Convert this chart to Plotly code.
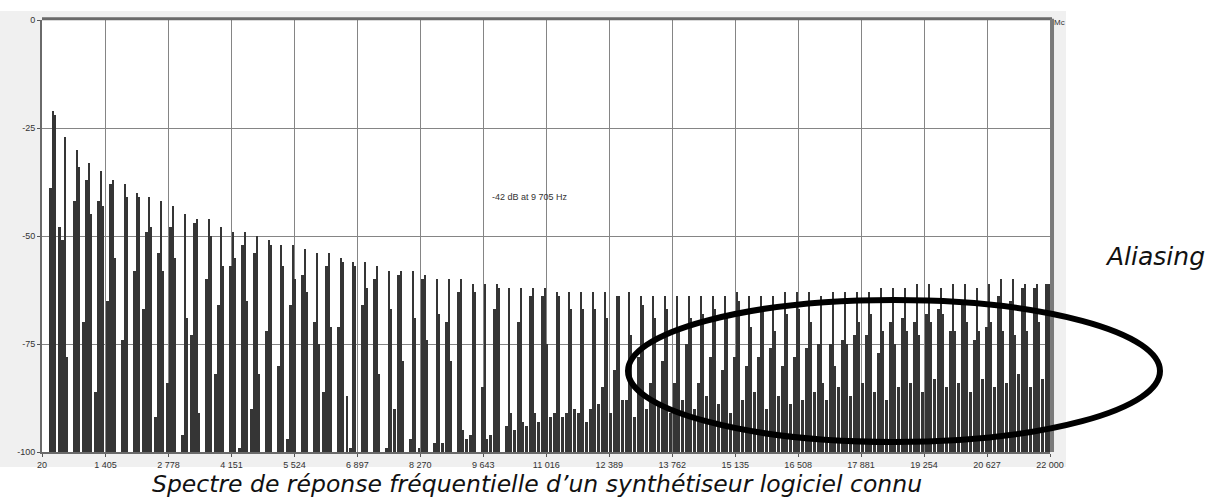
import plotly.graph_objects as go

# Harmonic frequencies (Hz) of the analysed tone
harm_freq = [262, 523, 785, 1046, 1308, 1570, 1831, 2093, 2354, 2616, 2878, 3139, 3401, 3662,
             3924, 4186, 4447, 4709, 4970, 5232, 5494, 5755, 6017, 6278, 6540, 6802, 7063, 7325,
             7586, 7848, 8110, 8371, 8633, 8894, 9156, 9418, 9679, 9941, 10202, 10464, 10726,
             10987, 11249, 11510, 11772, 12034, 12295, 12557, 12818, 13080, 13342, 13603, 13865,
             14126, 14388, 14650, 14911, 15173, 15434, 15696, 15958, 16219, 16481, 16742, 17004,
             17266, 17527, 17789, 18050, 18312, 18574, 18835, 19097, 19358, 19620, 19882, 20143,
             20405, 20666, 20928, 21190, 21451, 21713, 21974]

# Main harmonic peak level (dB)
main_db = [-21, -27, -30, -33, -35, -37, -38, -40, -41, -42, -43, -45, -46, -46, -48, -49, -49,
           -50, -51, -52, -52, -53, -54, -54, -55, -56, -56, -57, -58, -58, -58, -59, -60, -60,
           -60, -61, -61, -61, -62, -62, -62, -62, -63, -63, -63, -63, -63, -64, -63, -64, -64,
           -64, -64, -64, -64, -64, -64, -63, -64, -64, -64, -63, -63, -63, -64, -63, -63, -63,
           -63, -62, -62, -62, -61, -61, -62, -61, -61, -62, -61, -60, -60, -61, -61, -61]

# Component just below each harmonic (dB)
left_db = [-39, -51, -42, -37, -42, -38, -74, -58, -49, -54, -48, -96, -47, -60, -66, -57, -52,
           -54, -72, -80, -66, -59, -70, -57, -71, -99, -66, -60, -99, -59, -97, -60, -98, -70,
           -63, -96, -85, -67, -94, -70, -64, -64, -91, -91, -91, -90, -85, -81, -88, -78, -84,
           -79, -84, -75, -84, -78, -81, -78, -80, -78, -76, -80, -78, -76, -75, -75, -74, -73,
           -73, -77, -70, -69, -70, -68, -67, -72, -66, -74, -71, -64, -65, -62, -62, -61]

# Component just above each harmonic (dB)
right_db = [-22, -78, -34, -45, -43, -55, -41, -41, -48, -58, -55, -69, -91, -50, -57, -55, -65,
            -82, -52, -57, -60, -63, -75, -71, -56, -57, -62, -82, -67, -79, -69, -74, -68, -79,
            -95, -63, -97, -62, -91, -93, -91, -75, -64, -67, -67, -67, -69, -64, -73, -66, -69,
            -67, -72, -69, -68, -67, -69, -65, -71, -67, -72, -68, -67, -70, -84, -80, -75, -70,
            -68, -72, -75, -72, -73, -70, -68, -72, -70, -72, -70, -72, -73, -72, -70, -78]

# Aliased components lying between harmonics (dB, -100 = none)
gap_db = [-48, -100, -70, -86, -65, -100, -100, -67, -92, -84, -100, -73, -100, -82, -100, -99,
          -90, -100, -100, -97, -100, -100, -86, -100, -87, -100, -100, -100, -90, -100, -99,
          -100, -98, -100, -97, -100, -96, -100, -95, -94, -93, -92, -92, -90, -93, -89, -91,
          -88, -92, -90, -89, -91, -88, -90, -87, -89, -91, -88, -86, -90, -87, -89, -88, -86,
          -88, -85, -87, -84, -86, -88, -85, -84, -86, -83, -85, -84, -86, -83, -85, -84, -82,
          -85, -83, -100]

tick_vals = [20, 1405, 2778, 4151, 5524, 6897, 8270, 9643, 11016, 12389, 13762, 15135, 16508,
             17881, 19254, 20627, 22000]
tick_text = ["20", "1 405", "2 778", "4 151", "5 524", "6 897", "8 270", "9 643", "11 016",
             "12 389", "13 762", "15 135", "16 508", "17 881", "19 254", "20 627", "22 000"]
y_vals = [0, -25, -50, -75, -100]
y_text = ["0", "-25", "-50", "-75", "-100"]

FLOOR = -100
BAR = "#353535"

fig = go.Figure()

def add(vals, offset, width):
    fig.add_trace(go.Bar(
        x=harm_freq, y=[v - FLOOR for v in vals], base=FLOOR,
        offset=offset, width=width, marker=dict(color=BAR, line=dict(width=0)),
        showlegend=False, hoverinfo="skip"))

add(gap_db, 98, 65)
add(left_db, -87, 65)
add(right_db, 22, 44)
add(main_db, -22, 44)

L, R, T, B = 42, 160, 20, 45
W, H = 1210, 497
pw, ph = W - L - R, H - T - B

def px(x):
    return (x - L) / pw

def py(y):
    return (H - B - y) / ph

shapes = [
    # grey application panel
    dict(type="rect", xref="paper", yref="paper", x0=px(0), x1=px(1066), y0=py(467), y1=py(11),
         fillcolor="#f0f0f0", line=dict(width=0), layer="below"),
    dict(type="rect", xref="paper", yref="paper", x0=0, x1=1, y0=0, y1=1,
         fillcolor="white", line=dict(width=0), layer="below"),
    # thick top / right frame
    dict(type="line", xref="paper", yref="paper", x0=0, x1=1.002, y0=1.003, y1=1.003,
         line=dict(color="#6a6a6a", width=3)),
    dict(type="line", xref="paper", yref="paper", x0=1.002, x1=1.002, y0=0, y1=1.003,
         line=dict(color="#7a7a7a", width=4)),
    # highlight ellipse
    dict(type="circle", xref="paper", yref="paper", x0=px(628), x1=px(1160), y0=py(442), y1=py(300),
         line=dict(color="black", width=6)),
]

annotations = [
    dict(text="-42 dB at 9 705 Hz", x=10660, y=-41, xref="x", yref="y", showarrow=False,
         xanchor="center", yanchor="middle",
         font=dict(family="Liberation Sans", size=9, color="#333")),
    dict(text="Mc", x=px(1052), y=py(22), xref="paper", yref="paper", xanchor="left",
         yanchor="middle", showarrow=False,
         font=dict(family="Liberation Sans", size=8, color="#333")),
    dict(text="<i>Aliasing</i>", x=px(1155), y=py(256), xref="paper", yref="paper",
         xanchor="center", yanchor="middle", showarrow=False,
         font=dict(family="DejaVu Sans", size=25, color="#111")),
    dict(text="<i>Spectre de réponse fréquentielle d’un synthétiseur logiciel connu</i>",
         x=px(537), y=py(484), xref="paper", yref="paper", showarrow=False,
         xanchor="center", yanchor="middle",
         font=dict(family="DejaVu Sans", size=23.5, color="#111")),
]

fig.update_layout(
    width=W, height=H, margin=dict(l=L, r=R, t=T, b=B),
    paper_bgcolor="white", plot_bgcolor="white",
    barmode="overlay", bargap=0,
    shapes=shapes, annotations=annotations,
    xaxis=dict(range=[20, 22000], tickvals=tick_vals, ticktext=tick_text,
               showgrid=True, gridcolor="#858585", gridwidth=1, zeroline=False,
               showline=True, linecolor="#6a6a6a", linewidth=2, ticks="outside", ticklen=3,
               tickcolor="#555", tickfont=dict(family="Liberation Sans", size=9, color="#333")),
    yaxis=dict(range=[-100, 0], tickvals=y_vals, ticktext=y_text,
               showgrid=True, gridcolor="#858585", gridwidth=1, zeroline=False,
               showline=True, linecolor="#6a6a6a", linewidth=2, ticks="outside", ticklen=3,
               tickcolor="#555", tickfont=dict(family="Liberation Sans", size=9, color="#333")),
)

fig.write_html("out.html", config={"displayModeBar": False},
               post_script="document.body.style.margin='0';document.body.style.overflow='hidden';")
